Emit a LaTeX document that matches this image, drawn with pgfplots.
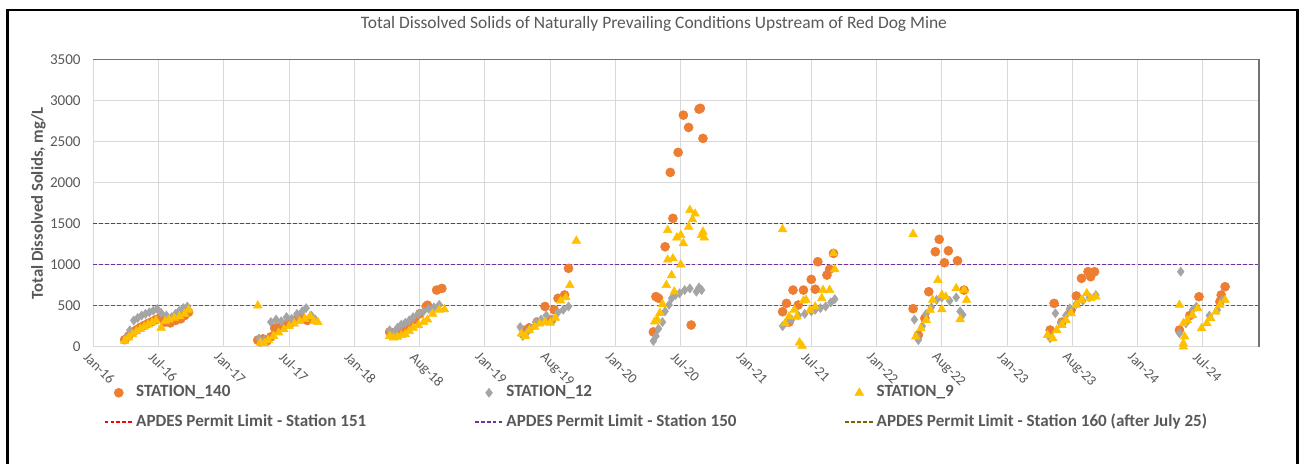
\documentclass[border=0pt]{standalone}
\usepackage{fontspec}
\setmainfont{Carlito}
\usepackage{pgfplots}
\pgfplotsset{compat=1.18}
\definecolor{c140}{HTML}{ED7D31}
\definecolor{c12}{HTML}{A5A5A5}
\definecolor{c9}{HTML}{FFC000}
\definecolor{limA}{HTML}{FF0000}
\definecolor{limB}{HTML}{7030A0}
\definecolor{limC}{HTML}{7F6000}
\definecolor{txt}{HTML}{595959}
\definecolor{gridc}{HTML}{D9D9D9}
\begin{document}
\begin{tikzpicture}[x=1pt,y=1pt]
\useasboundingbox (0,0) rectangle (977.25,348);
\fill[white] (0,0) rectangle (977.25,348);
\draw[black, line width=2.2pt] (5.5,-2) -- (5.5,340.5) -- (973.2,340.5) -- (973.2,-2);
\begin{axis}[
  at={(69.98pt,87.98pt)}, anchor=south west,
  scale only axis, width=874.3pt, height=215.4pt,
  xmin=2016, xmax=2024.93, ymin=0, ymax=3500,
  enlargelimits=false, clip=false,
  xtick={2016,2016.5,2017,2017.5,2018,2018.5,2019,2019.5,2020,2020.5,2021,2021.5,2022,2022.5,2023,2023.5,2024,2024.5},
  xticklabels={Jan-16,Jul-16,Jan-17,Jul-17,Jan-18,Aug-18,Jan-19,Aug-19,Jan-20,Jul-20,Jan-21,Jul-21,Jan-22,Aug-22,Jan-23,Aug-23,Jan-24,Jul-24},
  ytick={0,500,1000,1500,2000,2500,3000,3500},
  grid=major, major grid style={draw=gridc, line width=0.75pt},
  axis line style={draw=gridc, line width=0.75pt},
  tick style={draw=none},
  /pgf/number format/assume math mode=true,
  /pgf/number format/set thousands separator={},
  yticklabel style={font=\fontsize{11.3}{13}\selectfont, text=txt, xshift=-6pt},
  xticklabel style={font=\fontsize{10.6}{12}\selectfont, text=txt, rotate=-45, anchor=north west, xshift=-3pt, yshift=-1pt},
  ylabel={Total Dissolved Solids, mg/L},
  ylabel style={at={(axis description cs:-0.047,0.5)}, anchor=center, rotate=0, font=\bfseries\fontsize{12.5}{14}\selectfont, text=txt},
  title={Total Dissolved Solids of Naturally Prevailing Conditions Upstream of Red Dog Mine},
  title style={at={(axis description cs:0.481,1.0958)}, anchor=center, font=\fontsize{13.1}{15}\selectfont, text=txt},
  legend image code/.code={\draw[mark repeat=2,mark phase=2,#1] plot coordinates {(0pt,0pt) (10.5pt,0pt) (21pt,0pt)};},
  legend columns=3,
  legend cell align=left,
  legend style={at={(axis description cs:0.0092,-0.1280)}, anchor=north west, draw=none, fill=none,
    inner sep=0pt, outer sep=0pt, row sep=8pt,
    font=\bfseries\fontsize{12.8}{15}\selectfont, text=txt,
    nodes={inner xsep=2pt, inner ysep=1pt, text height=9pt, text depth=3pt},
    /tikz/every even column/.append style={column sep=79pt}},
  after end axis/.code={\draw[black!55, line width=1.2pt] (rel axis cs:0,1) -- (rel axis cs:1,1) -- (rel axis cs:1,0);},
]
\addplot[only marks, mark=*, mark size=3.4pt, mark options={draw=c140, fill=c140}] table {
2016.24 85
2016.27 130
2016.30 175
2016.33 205
2016.36 235
2016.39 260
2016.42 285
2016.45 305
2016.48 330
2016.51 350
2016.55 300
2016.59 290
2016.63 320
2016.67 340
2016.70 380
2016.73 420
2017.26 80
2017.28 60
2017.30 95
2017.33 70
2017.36 120
2017.39 225
2017.43 240
2017.47 265
2017.51 285
2017.55 330
2017.59 365
2017.64 320
2018.27 180
2018.30 150
2018.34 170
2018.38 200
2018.42 270
2018.46 330
2018.50 400
2018.55 490
2018.56 505
2018.63 690
2018.67 710
2019.30 200
2019.34 230
2019.40 300
2019.46 490
2019.51 325
2019.53 450
2019.56 590
2019.61 630
2019.64 955
2020.29 180
2020.31 610
2020.33 590
2020.38 1218
2020.42 2124
2020.44 1564
2020.48 2368
2020.52 2822
2020.56 2672
2020.58 264
2020.64 2895
2020.65 2905
2020.67 2538
2021.28 426
2021.31 528
2021.33 300
2021.36 690
2021.40 508
2021.44 690
2021.50 820
2021.53 700
2021.55 1035
2021.62 873
2021.64 943
2021.67 1137
2022.28 463
2022.32 142
2022.37 346
2022.40 670
2022.45 1157
2022.48 1308
2022.52 1023
2022.55 1169
2022.62 1047
2022.67 690
2023.33 203
2023.36 528
2023.42 300
2023.49 447
2023.53 618
2023.57 833
2023.62 914
2023.64 853
2023.67 914
2024.32 203
2024.40 380
2024.47 609
2024.63 548
2024.64 630
2024.67 731
};
\addlegendentry{STATION\_140}
\addplot[only marks, mark=diamond*, mark size=3.4pt, mark options={draw=c12, fill=c12}] table {
2016.25 110
2016.28 200
2016.31 320
2016.34 350
2016.37 380
2016.40 400
2016.43 420
2016.46 440
2016.49 460
2016.52 410
2016.56 380
2016.60 360
2016.63 400
2016.66 440
2016.69 470
2016.72 490
2017.27 100
2017.31 80
2017.36 300
2017.40 330
2017.44 310
2017.48 360
2017.52 340
2017.56 400
2017.60 430
2017.63 470
2017.67 380
2017.70 330
2018.27 200
2018.30 170
2018.33 230
2018.36 270
2018.39 290
2018.42 320
2018.45 360
2018.49 400
2018.53 430
2018.57 460
2018.61 480
2018.65 510
2019.27 240
2019.29 130
2019.32 170
2019.35 220
2019.39 300
2019.43 330
2019.47 380
2019.52 330
2019.56 420
2019.60 450
2019.64 490
2020.29 70
2020.31 130
2020.33 220
2020.36 300
2020.38 430
2020.41 510
2020.43 590
2020.46 630
2020.49 650
2020.53 690
2020.57 710
2020.62 670
2020.64 720
2020.66 690
2021.28 250
2021.31 300
2021.35 330
2021.40 380
2021.45 400
2021.50 430
2021.53 450
2021.57 470
2021.61 490
2021.65 540
2021.68 580
2022.29 330
2022.31 130
2022.32 80
2022.35 250
2022.38 400
2022.42 480
2022.46 570
2022.50 600
2022.56 560
2022.61 600
2022.64 430
2022.66 390
2023.33 102
2023.37 407
2023.41 285
2023.45 380
2023.48 468
2023.53 520
2023.58 560
2023.63 600
2023.68 630
2024.32 163
2024.33 914
2024.37 285
2024.42 447
2024.45 487
2024.55 380
2024.61 447
2024.65 569
};
\addlegendentry{STATION\_12}
\addplot[only marks, mark=triangle*, mark size=3.7pt, mark options={draw=c9, fill=c9}] table {
2016.24 70
2016.27 110
2016.30 150
2016.33 185
2016.36 215
2016.39 245
2016.42 270
2016.45 295
2016.48 320
2016.52 230
2016.55 310
2016.58 330
2016.62 350
2016.66 370
2016.70 400
2016.73 450
2017.26 500
2017.28 50
2017.31 40
2017.34 80
2017.38 130
2017.42 170
2017.46 210
2017.50 250
2017.54 280
2017.58 310
2017.62 340
2017.66 370
2017.69 310
2017.72 300
2018.27 130
2018.30 110
2018.33 120
2018.36 140
2018.39 150
2018.42 190
2018.45 230
2018.49 260
2018.53 300
2018.56 330
2018.60 400
2018.65 450
2018.69 455
2019.28 160
2019.31 130
2019.34 200
2019.38 240
2019.42 280
2019.46 300
2019.50 290
2019.54 350
2019.58 560
2019.62 600
2019.65 750
2019.70 1290
2020.30 305
2020.32 330
2020.34 410
2020.36 520
2020.39 750
2020.40 1060
2020.40 1420
2020.43 870
2020.44 1075
2020.45 670
2020.47 1330
2020.50 1000
2020.50 1360
2020.52 1260
2020.56 1460
2020.57 1665
2020.59 1550
2020.61 1620
2020.66 1360
2020.67 1400
2020.68 1330
2021.28 1430
2021.30 285
2021.33 366
2021.37 450
2021.39 366
2021.41 50
2021.43 10
2021.44 560
2021.46 569
2021.49 447
2021.53 487
2021.58 590
2021.59 690
2021.64 690
2021.67 1137
2021.68 943
2022.28 1373
2022.30 122
2022.34 224
2022.38 325
2022.41 447
2022.43 569
2022.47 812
2022.50 630
2022.50 455
2022.53 609
2022.61 711
2022.64 334
2022.67 690
2022.69 569
2023.31 142
2023.35 102
2023.38 203
2023.42 264
2023.45 325
2023.49 407
2023.53 508
2023.57 569
2023.61 650
2023.64 590
2023.68 609
2024.32 508
2024.35 0
2024.35 40
2024.35 285
2024.36 122
2024.38 325
2024.42 386
2024.46 468
2024.49 224
2024.53 285
2024.56 346
2024.60 426
2024.63 508
2024.67 569
};
\addlegendentry{STATION\_9}
\addplot[limA, line width=1.1pt, dash pattern=on 2.8pt off 1.6pt] coordinates {(2016,1500) (2024.93,1500)};
\addlegendentry{APDES Permit Limit - Station 151}
\addplot[limB, line width=1.1pt, dash pattern=on 2.8pt off 1.6pt] coordinates {(2016,1000) (2024.93,1000)};
\addlegendentry{APDES Permit Limit - Station 150}
\addplot[limC, line width=1.1pt, dash pattern=on 2.8pt off 1.6pt] coordinates {(2016,500) (2024.93,500)};
\addlegendentry{APDES Permit Limit - Station 160 (after July 25)}
\end{axis}
\end{tikzpicture}
\end{document}
